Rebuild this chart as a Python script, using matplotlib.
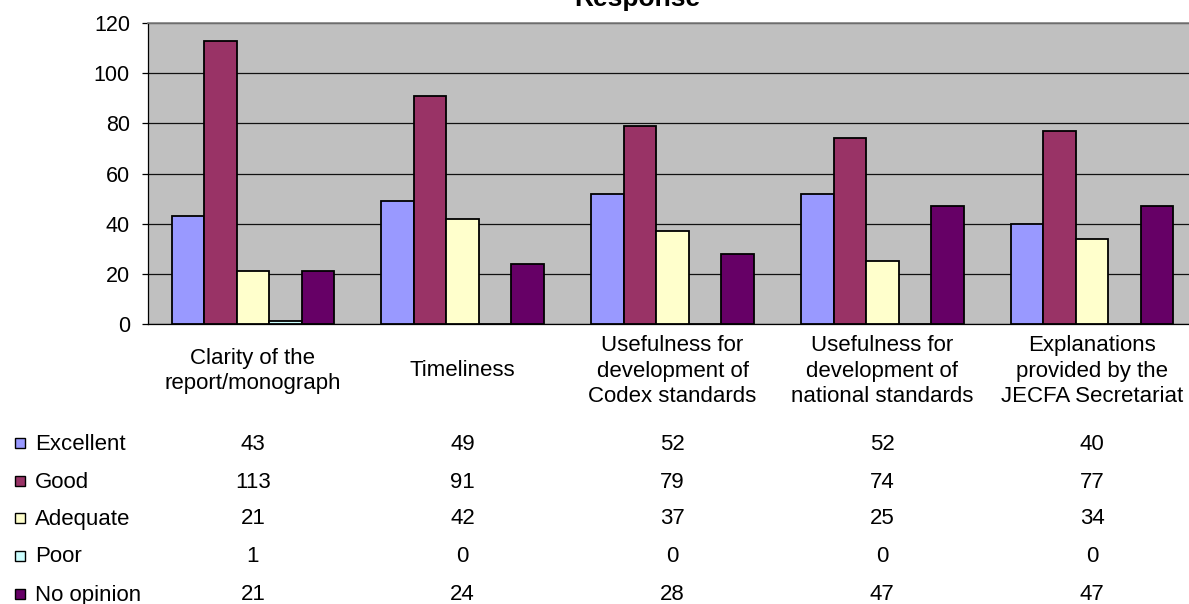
import numpy as np
import matplotlib.pyplot as plt
from matplotlib.transforms import blended_transform_factory
from matplotlib.patches import Rectangle

plt.rcParams["font.family"] = ["Liberation Sans", "DejaVu Sans"]

categories = [
    "Clarity of the\nreport/monograph",
    "Timeliness",
    "Usefulness for\ndevelopment of\nCodex standards",
    "Usefulness for\ndevelopment of\nnational standards",
    "Explanations\nprovided by the\nJECFA Secretariat",
]
series_names = ["Excellent", "Good", "Adequate", "Poor", "No opinion"]
excellent = [43, 49, 52, 52, 40]
good = [113, 91, 79, 74, 77]
adequate = [21, 42, 37, 25, 34]
poor = [1, 0, 0, 0, 0]
no_opinion = [21, 24, 28, 47, 47]
colors = ["#9999FF", "#993366", "#FFFFCC", "#CCFFFF", "#660066"]

W, H = 1189, 604
fig = plt.figure(figsize=(W / 100, H / 100), dpi=100)
ax = fig.add_axes([148 / W, 1 - 324 / H, (1197 - 148) / W, (324 - 23) / H])
ax.set_facecolor("#C0C0C0")

series = [excellent, good, adequate, poor, no_opinion]
x = np.arange(len(categories))
bw = 0.155
for i, (vals, c) in enumerate(zip(series, colors)):
    ax.bar(x + (i - 2) * bw, vals, bw, color=c, edgecolor="black",
           linewidth=1.3, zorder=3)

ax.set_xlim(-0.5, len(categories) - 0.5)
ax.set_ylim(0, 120)
ax.set_yticks(np.arange(0, 121, 20))
ax.yaxis.grid(True, color="#111111", linewidth=0.9, zorder=0)
ax.set_axisbelow(True)
ax.set_xticks([])
ax.tick_params(axis="y", direction="out", length=4.5, width=0.9,
               labelsize=15.5, pad=8.5)
ax.spines["right"].set_visible(False)
ax.spines["top"].set_color("#808080")
ax.spines["top"].set_linewidth(1.2)
ax.spines["left"].set_linewidth(0.9)
ax.spines["bottom"].set_linewidth(0.9)

fig.text(637 / W, 1 - 6 / H, "Response", ha="center", va="baseline",
         fontsize=19, fontweight="bold")

tr = blended_transform_factory(ax.transData, fig.transFigure)
for xi, lab in zip(x, categories):
    ax.text(xi, 1 - 371 / H, lab, transform=tr, ha="center", va="center",
            multialignment="center", fontsize=16, linespacing=1.28)

row_y = [444, 482, 519, 557, 595]
for name, vals, c, ry in zip(series_names, series, colors, row_y):
    yf = 1 - ry / H
    fig.patches.append(Rectangle((15 / W, yf - 4 / H), 10 / W, 10 / H,
                                 transform=fig.transFigure, facecolor=c,
                                 edgecolor="black", linewidth=1.0))
    fig.text(35 / W, yf, name, ha="left", va="center", fontsize=16)
    for xi, v in zip(x, vals):
        ax.text(xi, yf, str(v), transform=tr, ha="center", va="center",
                fontsize=16)

fig.savefig("out.png", dpi=100)
